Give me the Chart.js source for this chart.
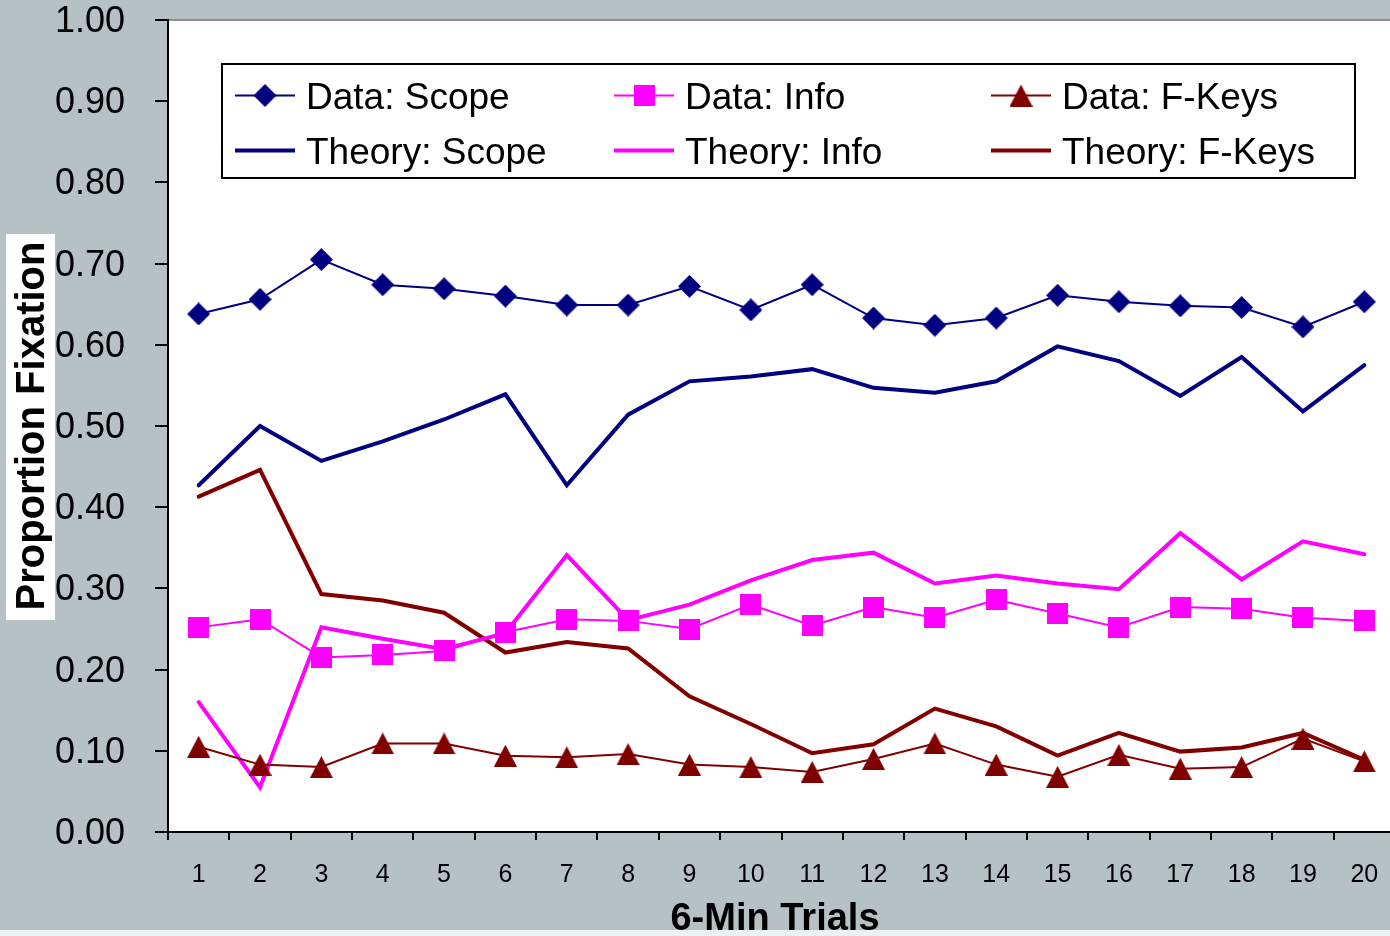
<!DOCTYPE html>
<html>
<head>
<meta charset="utf-8">
<title>Proportion Fixation by Trial</title>
<script src="https://cdn.jsdelivr.net/npm/chart.js@4.4.1/dist/chart.umd.min.js"></script>
<style>
  html, body { margin: 0; padding: 0; overflow: hidden; background: #b6c1c3; }
  canvas { display: block; }
</style>
</head>
<body>
<canvas id="chart" width="1408" height="936"></canvas>
<script>
// Trials (6-minute blocks)
const trials = ['1','2','3','4','5','6','7','8','9','10','11','12','13','14','15','16','17','18','19','20'];

// Observed proportions of fixation
const dataScope = [0.638,0.656,0.705,0.674,0.669,0.660,0.649,0.649,0.672,0.643,0.674,0.633,0.624,0.633,0.661,0.653,0.648,0.646,0.622,0.653];
const dataInfo  = [0.252,0.262,0.215,0.218,0.223,0.246,0.262,0.260,0.250,0.280,0.254,0.277,0.264,0.286,0.269,0.252,0.277,0.275,0.264,0.260];
const dataFKeys = [0.105,0.083,0.080,0.109,0.109,0.094,0.092,0.096,0.083,0.080,0.074,0.090,0.109,0.083,0.068,0.095,0.078,0.080,0.115,0.087];

// Model predictions
const theoryScope = [0.427,0.500,0.457,0.481,0.508,0.539,0.427,0.514,0.555,0.561,0.570,0.547,0.541,0.555,0.598,0.580,0.537,0.585,0.518,0.575];
const theoryInfo  = [0.160,0.055,0.252,0.238,0.225,0.245,0.341,0.261,0.280,0.310,0.335,0.344,0.306,0.316,0.306,0.299,0.368,0.311,0.358,0.342];
const theoryFKeys = [0.413,0.446,0.293,0.285,0.270,0.221,0.234,0.226,0.167,0.133,0.097,0.108,0.152,0.130,0.094,0.122,0.099,0.104,0.122,0.089];

const FONT = "'Liberation Sans', Arial, Helvetica, sans-serif";
const NAVY = '#000080';
const MAGENTA = '#ff00ff';
const MAROON = '#800000';
const PANEL = '#b6c1c3';

// Marker glyphs, drawn once and reused by the chart and the legend
function makeMarker(shape, color) {
  const c = document.createElement('canvas');
  const g = c.getContext('2d');
  if (shape === 'diamond') {
    c.width = 23; c.height = 23;
    g.fillStyle = color;
    g.beginPath();
    g.moveTo(11.5, 0); g.lineTo(23, 11.5); g.lineTo(11.5, 23); g.lineTo(0, 11.5);
    g.closePath(); g.fill();
  } else if (shape === 'square') {
    c.width = 21; c.height = 21;
    g.fillStyle = color;
    g.fillRect(0, 0, 21, 21);
  } else {
    c.width = 23; c.height = 22;
    g.fillStyle = color;
    g.beginPath();
    g.moveTo(11.5, 0); g.lineTo(23, 22); g.lineTo(0, 22);
    g.closePath(); g.fill();
  }
  return c;
}
const diamond = makeMarker('diamond', NAVY);
const square = makeMarker('square', MAGENTA);
const triangle = makeMarker('triangle', MAROON);

function observed(label, values, color, marker) {
  return {
    label, data: values, borderColor: color, backgroundColor: color,
    borderWidth: 2, tension: 0, pointStyle: marker,
    pointRadius: 11, pointHoverRadius: 11
  };
}
function predicted(label, values, color) {
  return {
    label, data: values, borderColor: color, backgroundColor: color,
    borderWidth: 4, tension: 0, pointRadius: 0, pointHoverRadius: 0,
    borderCapStyle: 'round'
  };
}

// Grey panel, white plotting area and its thin top border
const backdrop = {
  id: 'backdrop',
  beforeDraw(chart) {
    const { ctx, chartArea: a } = chart;
    ctx.save();
    ctx.fillStyle = PANEL;
    ctx.fillRect(0, 0, chart.width, chart.height);
    ctx.fillStyle = '#ffffff';
    ctx.fillRect(a.left, a.top, a.right - a.left, a.bottom - a.top);
    ctx.strokeStyle = '#8c9091';
    ctx.lineWidth = 2;
    ctx.beginPath();
    ctx.moveTo(a.left, a.top);
    ctx.lineTo(a.right, a.top);
    ctx.stroke();
    ctx.restore();
  }
};

// Axis titles: rotated y title on a white label, bold x title below the ticks
const axisTitles = {
  id: 'axisTitles',
  afterDraw(chart) {
    const { ctx } = chart;
    ctx.save();
    ctx.fillStyle = '#ffffff';
    ctx.fillRect(6, 234, 49, 386);
    ctx.translate(43.5, 426);
    ctx.rotate(-Math.PI / 2);
    ctx.fillStyle = '#000000';
    ctx.font = 'bold 40px ' + FONT;
    ctx.textAlign = 'center';
    ctx.textBaseline = 'alphabetic';
    ctx.fillText('Proportion Fixation', 0, 0);
    ctx.restore();

    ctx.save();
    ctx.fillStyle = '#000000';
    ctx.font = 'bold 38px ' + FONT;
    ctx.textAlign = 'center';
    ctx.textBaseline = 'alphabetic';
    ctx.fillText('6-Min Trials', 775, 930);
    ctx.fillStyle = '#eef1f1';
    ctx.fillRect(0, 930, chart.width, 6);
    ctx.restore();
  }
};

// Boxed legend in a 3 x 2 grid
const legendBox = {
  id: 'legendBox',
  afterDraw(chart) {
    const { ctx } = chart;
    const ds = chart.data.datasets;
    const colX = [235, 614, 991];
    const rowY = [95.5, 150.5];
    const sample = 60;
    ctx.save();
    ctx.fillStyle = '#ffffff';
    ctx.fillRect(222, 64, 1133, 114);
    ctx.strokeStyle = '#000000';
    ctx.lineWidth = 2;
    ctx.strokeRect(222, 64, 1133, 114);
    ds.forEach((d, i) => {
      const x = colX[i % 3];
      const y = rowY[Math.floor(i / 3)];
      ctx.strokeStyle = d.borderColor;
      ctx.lineWidth = d.borderWidth;
      ctx.lineCap = 'butt';
      ctx.beginPath();
      ctx.moveTo(x, y);
      ctx.lineTo(x + sample, y);
      ctx.stroke();
      if (d.pointStyle instanceof HTMLCanvasElement) {
        const m = d.pointStyle;
        ctx.drawImage(m, x + sample / 2 - m.width / 2, y - m.height / 2);
      }
      ctx.fillStyle = '#000000';
      ctx.font = '37px ' + FONT;
      ctx.textAlign = 'left';
      ctx.textBaseline = 'alphabetic';
      ctx.fillText(d.label, x + 71, y + 13);
    });
    ctx.restore();
  }
};

new Chart(document.getElementById('chart'), {
  type: 'line',
  data: {
    labels: trials,
    datasets: [
      observed('Data: Scope', dataScope, NAVY, diamond),
      observed('Data: Info', dataInfo, MAGENTA, square),
      observed('Data: F-Keys', dataFKeys, MAROON, triangle),
      predicted('Theory: Scope', theoryScope, NAVY),
      predicted('Theory: Info', theoryInfo, MAGENTA),
      predicted('Theory: F-Keys', theoryFKeys, MAROON)
    ]
  },
  options: {
    responsive: false,
    animation: false,
    devicePixelRatio: 1,
    layout: { padding: { left: 0, right: 3, top: 20, bottom: 0 } },
    plugins: {
      legend: { display: false },
      tooltip: { enabled: false }
    },
    scales: {
      x: {
        offset: true,
        grid: { offset: true, drawOnChartArea: false, drawTicks: true, tickLength: 8, color: '#000000', lineWidth: 2 },
        border: { display: true, color: '#000000', width: 2 },
        ticks: { color: '#000000', font: { family: FONT, size: 25 }, padding: 20, maxRotation: 0, autoSkip: false },
        afterFit(scale) {
          scale.height = 104;
          scale.paddingLeft = 0;
          scale.paddingRight = 0;
        }
      },
      y: {
        min: 0,
        max: 1,
        grid: { drawOnChartArea: false, drawTicks: true, tickLength: 13, color: '#000000', lineWidth: 2 },
        border: { display: true, color: '#000000', width: 2 },
        ticks: {
          stepSize: 0.1, color: '#000000', padding: 30, labelOffset: 2,
          font: { family: FONT, size: 36 },
          callback: (v) => Number(v).toFixed(2)
        },
        afterFit(scale) {
          scale.width = 168;
          scale.paddingTop = 0;
          scale.paddingBottom = 0;
        }
      }
    }
  },
  plugins: [backdrop, axisTitles, legendBox]
});
</script>
</body>
</html>
